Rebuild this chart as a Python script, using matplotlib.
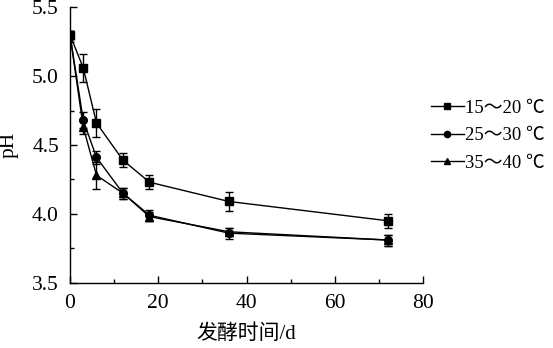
import matplotlib
matplotlib.use("Agg")
import matplotlib.pyplot as plt
from matplotlib.lines import Line2D
from matplotlib.ticker import MultipleLocator, FormatStrFormatter

plt.rcParams['font.family'] = ['Liberation Serif', 'Noto Sans CJK SC', 'DejaVu Sans']

days = [0, 3, 6, 12, 18, 36, 72]
labels = ['15～20 ℃', '25～30 ℃', '35～40 ℃']
ph_15_20 = [5.30, 5.06, 4.66, 4.39, 4.23, 4.09, 3.95]
ph_25_30 = [5.30, 4.68, 4.41, 4.15, 3.99, 3.86, 3.81]
ph_35_40 = [5.30, 4.63, 4.28, 4.15, 3.98, 3.87, 3.81]
err_15_20 = [0.03, 0.10, 0.10, 0.05, 0.05, 0.07, 0.05]
err_25_30 = [0.03, 0.06, 0.05, 0.04, 0.04, 0.04, 0.04]
err_35_40 = [0.03, 0.05, 0.10, 0.04, 0.03, 0.03, 0.04]
markers = ['s', 'o', '^']

fig = plt.figure(figsize=(5.53, 3.48), dpi=100)
ax = fig.add_axes([0.1266, 0.1876, 0.765 - 0.1266, 0.979 - 0.1876])

for y, e, m in zip([ph_15_20, ph_25_30, ph_35_40], [err_15_20, err_25_30, err_35_40], markers):
    ax.errorbar(days, y, yerr=e, color='black', marker=m, markersize=5.5,
                linewidth=1.0, elinewidth=1.0, capsize=3, capthick=1.0)

ax.set_xlim(0, 80)
ax.set_ylim(3.5, 5.5)
ax.xaxis.set_major_locator(MultipleLocator(20))
ax.xaxis.set_minor_locator(MultipleLocator(10))
ax.yaxis.set_major_locator(MultipleLocator(0.5))
ax.yaxis.set_minor_locator(MultipleLocator(0.25))
ax.yaxis.set_major_formatter(FormatStrFormatter('%.1f'))
ax.tick_params(which='both', direction='in', labelsize=15.5, width=1.0)
ax.tick_params(axis='x', which='major', length=5, pad=8)
ax.tick_params(axis='y', which='major', length=5, pad=8)
ax.tick_params(which='minor', length=3)
ax.spines['top'].set_visible(False)
ax.spines['right'].set_visible(False)
for s in ['left', 'bottom']:
    ax.spines[s].set_linewidth(1.0)

ax.set_xlabel('发酵时间/d', fontsize=15, labelpad=8)
ax.set_ylabel('pH', fontsize=15.5, labelpad=10)

handles = [Line2D([0], [0], color='black', marker=m, markersize=4.5, linewidth=1.0) for m in markers]
fig.legend(handles, labels, loc='upper left', bbox_to_anchor=(0.762, 0.74),
           frameon=False, fontsize=13.5, handlelength=1.75, handletextpad=0.1,
           labelspacing=0.55, borderpad=0)

fig.savefig('out.png', dpi=100)
